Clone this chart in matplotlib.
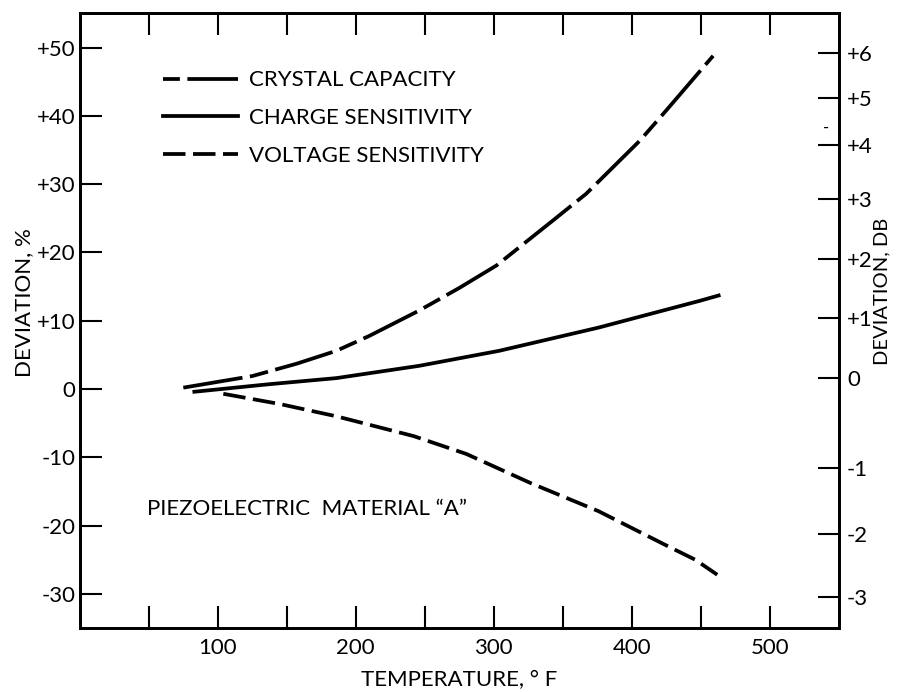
import numpy as np
import matplotlib.pyplot as plt
from matplotlib.lines import Line2D

plt.rcParams['font.family'] = ['Lato', 'DejaVu Sans']

# data (temperature in deg F, deviation in %)
cap_t = [75, 125, 157, 186, 210, 246, 275, 302, 343, 367, 406, 425, 459]
cap_dev = [0.2, 1.9, 3.7, 5.6, 7.8, 11.5, 14.8, 18.1, 24.7, 28.6, 36.4, 40.8, 48.8]

charge_t = [83, 137, 186, 246, 304, 376, 449, 463]
charge_dev = [-0.4, 0.7, 1.6, 3.4, 5.6, 9.0, 12.9, 13.7]

volt_t = [104, 145, 186, 242, 280, 327, 376, 424, 446, 462]
volt_dev = [-0.7, -2.2, -4.0, -6.9, -9.5, -13.8, -17.9, -22.8, -25.0, -27.2]

pct_ticks = [-30, -20, -10, 0, 10, 20, 30, 40, 50]
pct_labels = ['-30', '-20', '-10', '0', '+10', '+20', '+30', '+40', '+50']
temp_major = [100, 200, 300, 400, 500]
temp_minor = [50, 150, 250, 350, 450]

# right-hand DB scale, tick positions expressed on the % scale
db_pos = [-30.4, -21.3, -11.5, 1.6, 10.4, 19.0, 27.9, 35.7, 42.6, 49.2]
db_labels = ['-3', '-2', '-1', '0', '+1', '+2', '+3', '+4', '+5', '+6']

fs = 16

fig = plt.figure(figsize=(8.97, 6.92), dpi=100)
ax = fig.add_axes([0.089, 0.0925, 0.846, 0.888])

lw = 2.7
ax.plot(cap_t, cap_dev, color='black', lw=lw, ls=(0, (16, 2, 5, 2)), solid_capstyle='butt')
ax.plot(charge_t, charge_dev, color='black', lw=lw)
ax.plot(volt_t, volt_dev, color='black', lw=lw, ls=(0, (6, 2)))

ax.set_xlim(0, 550)
ax.set_ylim(-35, 55)

ax.set_xticks(temp_major)
ax.set_xticks(temp_minor, minor=True)
ax.set_yticks(pct_ticks)
ax.set_yticklabels(pct_labels)
ax.tick_params(axis='x', which='both', direction='in', length=16, width=1.5,
               top=True, labelsize=fs, pad=7)
ax.tick_params(axis='y', direction='in', length=16, width=1.5, labelsize=fs, pad=3)

ax.set_xlabel('TEMPERATURE, ° F', fontsize=fs, labelpad=9)
ax.set_ylabel('DEVIATION, %', fontsize=fs)
ax.yaxis.set_label_coords(-0.06, 0.53)

for s in ax.spines.values():
    s.set_linewidth(2)

ax2 = ax.twinx()
ax2.set_ylim(ax.get_ylim())
ax2.set_yticks(db_pos)
ax2.set_yticklabels(db_labels)
ax2.tick_params(axis='y', direction='in', length=15, width=1.5, labelsize=fs, pad=6)
ax2.set_ylabel('DEVIATION, DB', fontsize=14.5, rotation=90)
ax2.yaxis.set_label_coords(1.046, 0.548)
for s in ax2.spines.values():
    s.set_linewidth(2)
ax2.text(541, 38.3, '-', fontsize=12, ha='center', va='center')

handles = [
    Line2D([], [], color='black', lw=lw, ls=(0, (4.5, 2, 16, 2))),
    Line2D([], [], color='black', lw=lw),
    Line2D([], [], color='black', lw=lw, ls=(0, (6, 2))),
]
ax.legend(handles, ['CRYSTAL CAPACITY', 'CHARGE SENSITIVITY', 'VOLTAGE SENSITIVITY'],
          loc='upper left', bbox_to_anchor=(0.083, 0.94), frameon=False,
          fontsize=fs, handlelength=3.4, handletextpad=0.5, labelspacing=0.8)

ax.text(48.7, -17.5, 'PIEZOELECTRIC  MATERIAL “A”', fontsize=fs, va='center')

fig.savefig('out.png', dpi=100)
